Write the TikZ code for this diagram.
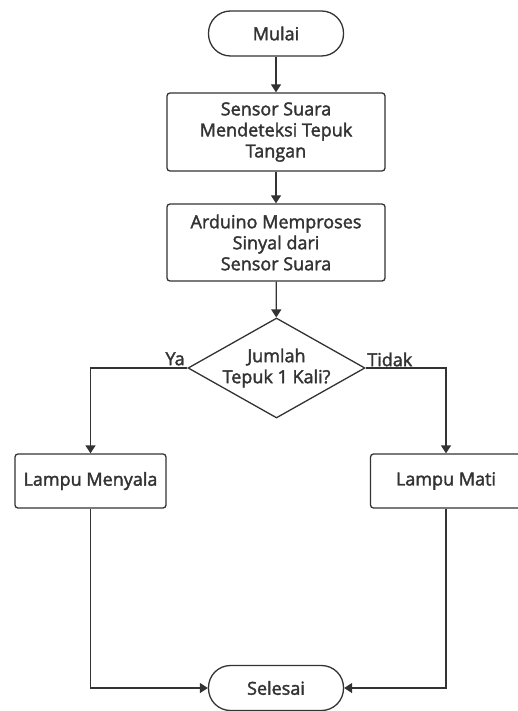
\documentclass[tikz,border=0pt]{standalone}
\usepackage{fontspec}
\setmainfont{Open Sans}
\newfontfamily\flowfont{Open Sans}[FakeBold=2]
\usepackage{tikz}
\usetikzlibrary{arrows.meta,shapes.geometric}

\begin{document}
\begin{tikzpicture}[->,>={Triangle[length=8pt,width=10pt]},
                    x=1pt,y=-1pt,line width=1.3pt,black!80]
\tikzstyle{every node}=[font=\flowfont\fontsize{18}{21}\selectfont]
\tikzstyle{terminal}=[draw,rounded corners=22pt,minimum width=135pt,minimum height=45pt]
\tikzstyle{proses}=[draw,rounded corners=3pt,align=center,minimum width=218pt,inner sep=2pt]
\tikzstyle{hasil}=[draw,rounded corners=3pt,minimum width=151pt,minimum height=54pt]
\tikzstyle{cek}=[draw,diamond,align=center,inner sep=0pt,aspect=1.77,
                 minimum width=177pt,minimum height=100pt]
\useasboundingbox (0,0) rectangle (518,711);

\node[terminal] (MULAI) at (276,33.5) {Mulai};
\node[proses,minimum height=78pt] (SENSOR) at (276,132) {Sensor Suara\\Mendeteksi Tepuk\\Tangan};
\node[proses,minimum height=77pt] (ARDUINO) at (276,242.5) {Arduino Memproses\\Sinyal dari\\Sensor Suara};
\node[cek] (CEK) at (276.5,368) {Jumlah\\Tepuk 1 Kali?};
\node[hasil] (NYALA) at (90.5,481) {Lampu Menyala};
\node[hasil] (MATI) at (446,481) {Lampu Mati};
\node[terminal] (SELESAI) at (276,688) {Selesai};

\path (MULAI) edge (SENSOR)
      (SENSOR) edge (ARDUINO)
      (ARDUINO) edge (CEK);
\draw (CEK.west) node[above left,inner sep=2pt] {Ya} -| (NYALA);
\draw (CEK.east) node[above right,inner sep=1pt] {Tidak} -| (MATI);
\draw (NYALA) |- (SELESAI);
\draw (MATI) |- (SELESAI);
\end{tikzpicture}
\end{document}
